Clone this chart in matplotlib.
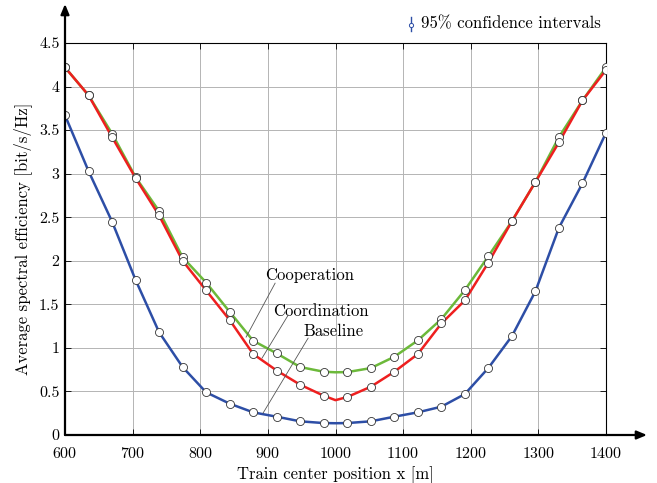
import numpy as np
import matplotlib
matplotlib.use("Agg")
import matplotlib.pyplot as plt

plt.rcParams['font.family'] = ['cmr10', 'DejaVu Serif']
plt.rcParams['mathtext.fontset'] = 'cm'
plt.rcParams['axes.formatter.use_mathtext'] = True

# ---- data ----
x_pos = np.linspace(600, 1400, 24)
baseline = [3.67, 3.03, 2.45, 1.78, 1.18, 0.78, 0.49, 0.36, 0.26, 0.21, 0.157, 0.137,
            0.137, 0.157, 0.21, 0.26, 0.325, 0.47, 0.77, 1.135, 1.65, 2.38, 2.89, 3.47]
coordination = [4.22, 3.90, 3.42, 2.95, 2.52, 2.00, 1.66, 1.32, 0.93, 0.74, 0.577, 0.451,
                0.436, 0.554, 0.726, 0.929, 1.28, 1.545, 1.98, 2.454, 2.905, 3.36, 3.84, 4.19]
cooperation = [4.22, 3.90, 3.46, 2.96, 2.57, 2.04, 1.75, 1.414, 1.082, 0.937, 0.78, 0.726,
               0.722, 0.768, 0.898, 1.086, 1.33, 1.663, 2.053, 2.454, 2.905, 3.42, 3.84, 4.22]
# extra line vertex at x = 1000 (curve drawn finer than markers)
x_mid = 1000
baseline_mid = 0.135
coordination_mid = 0.40
cooperation_mid = 0.72

xticks = [600, 700, 800, 900, 1000, 1100, 1200, 1300, 1400]
yticks = [0, 0.5, 1, 1.5, 2, 2.5, 3, 3.5, 4, 4.5]
ytick_labels = ['0', '0.5', '1', '1.5', '2', '2.5', '3', '3.5', '4', '4.5']

labels = ['Cooperation', 'Coordination', 'Baseline']
label_text_xy = [(896, 1.835), (908, 1.42), (952, 1.19)]
label_line_from = [(910.7, 1.743), (930.0, 1.376), (959.5, 1.112)]
label_line_to = [(867.8, 1.124), (891.4, 0.883), (892.9, 0.252)]

c_blue = '#2d4ea6'
c_red = '#ee1f1f'
c_green = '#6cb93a'

def with_mid(xs, ys, xm, ym):
    xs = list(xs); ys = list(ys)
    k = int(np.searchsorted(xs, xm))
    return xs[:k] + [xm] + xs[k:], ys[:k] + [ym] + ys[k:]

fig = plt.figure(figsize=(6.57, 4.83), dpi=100)
ax = fig.add_axes([65/657, 48/483, 541/657, 392/483])

for ys, ym, col, z in [(baseline, baseline_mid, c_blue, 3),
                       (cooperation, cooperation_mid, c_green, 3),
                       (coordination, coordination_mid, c_red, 4)]:
    lx, ly = with_mid(x_pos, ys, x_mid, ym)
    ax.plot(lx, ly, color=col, lw=1.8, zorder=z)
    ax.plot(x_pos, ys, ls='none', marker='o', ms=5.8, mfc='white', mec='#333333',
            mew=0.6, zorder=5)

ax.set_xlim(600, 1400)
ax.set_ylim(0, 4.5)
ax.set_xticks(xticks)
ax.set_yticks(yticks)
ax.set_yticklabels(ytick_labels)
ax.grid(True, color='#b4b4b4', lw=0.7)
ax.set_axisbelow(True)
ax.tick_params(direction='in', length=4, width=0.6, top=True, right=True,
               labelsize=11.5)
ax.tick_params(axis='x', pad=8)
ax.tick_params(axis='y', pad=4)
for s in ['top', 'right']:
    ax.spines[s].set_linewidth(0.8)
for s in ['left', 'bottom']:
    ax.spines[s].set_visible(False)

ax.set_xlabel('Train center position x [m]', fontsize=12, labelpad=4)
ax.set_ylabel('Average spectral efficiency [bit/s/Hz]', fontsize=12, labelpad=5)

# axis arrows
def fx(px): return px / 657
def fy(py): return 1 - py / 483
fig.add_artist(matplotlib.patches.FancyArrowPatch(
    (fx(65), fy(435)), (fx(647), fy(435)), transform=fig.transFigure,
    arrowstyle='-|>,head_length=6,head_width=2.5', color='black', lw=1.6,
    shrinkA=0, shrinkB=0))
fig.add_artist(matplotlib.patches.FancyArrowPatch(
    (fx(65), fy(435)), (fx(65), fy(4)), transform=fig.transFigure,
    arrowstyle='-|>,head_length=6,head_width=2.5', color='black', lw=1.6,
    shrinkA=0, shrinkB=0))

# annotations
for lab, (tx, ty), (x0, y0), (x1, y1) in zip(labels, label_text_xy,
                                              label_line_from, label_line_to):
    ax.text(tx, ty, lab, fontsize=12, ha='left', va='center', zorder=6)
    ax.plot([x0, x1], [y0, y1], color='#555555', lw=0.6, zorder=6)

# confidence-interval legend symbol and text
fig.add_artist(matplotlib.lines.Line2D([fx(411), fx(411)], [fy(17), fy(31)],
                                       color=c_blue, lw=1.0, transform=fig.transFigure))
fig.add_artist(matplotlib.lines.Line2D([fx(411)], [fy(24.5)], marker='o', ms=3.0,
                                       mfc='white', mec=c_blue, mew=0.7, ls='none',
                                       transform=fig.transFigure))
fig.text(fx(421), fy(24), '95% confidence intervals', fontsize=12,
         ha='left', va='center')

fig.savefig('out.png', dpi=100)
